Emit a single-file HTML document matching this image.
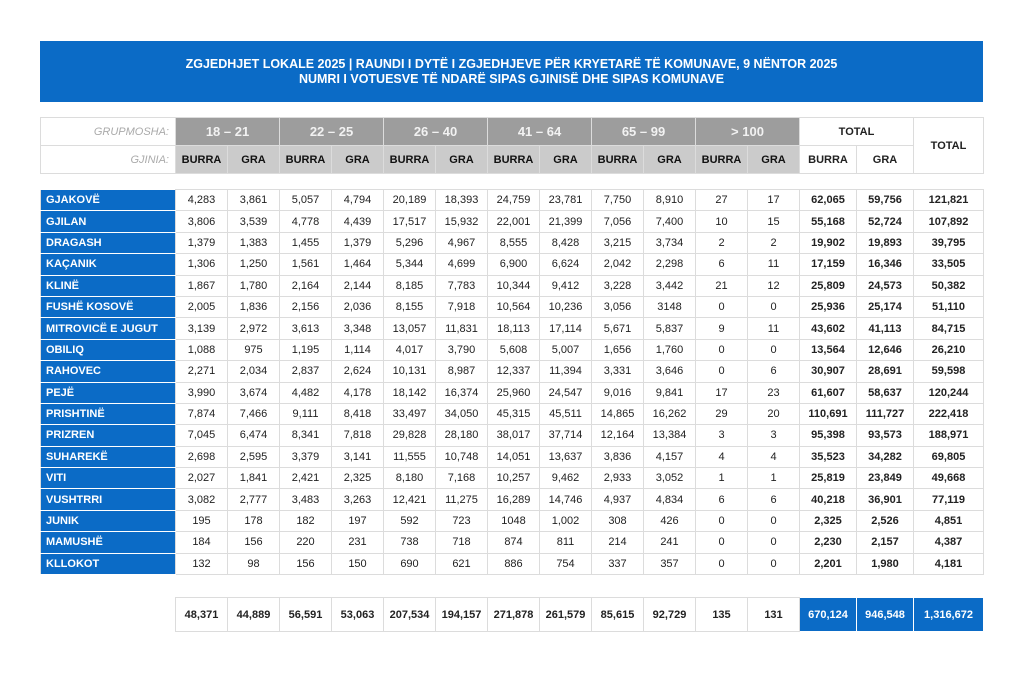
<!DOCTYPE html>
<html><head><meta charset="utf-8">
<style>
body{margin:0;width:1024px;height:682px;background:#fff;font-family:"Liberation Sans",Arial,sans-serif;position:relative;overflow:hidden}
.title{position:absolute;left:40px;top:41px;width:943px;height:61px;background:#0b6bc6;color:#fff;font-weight:bold;font-size:12.5px;text-align:center;line-height:15px;box-sizing:border-box;padding-top:16px}
table{position:absolute;left:40px;border-collapse:collapse;table-layout:fixed;width:943px}
td{border:1px solid #dcdcdc;text-align:center;font-size:11px;color:#222;padding:0;white-space:nowrap;overflow:hidden}
.h td{height:27px}
.age{background:#9d9d9d;color:#f2f2f2;font-weight:bold;font-size:13px}
.gen{background:#cbcbcb;font-weight:bold;font-size:11px;color:#111}
.lab{text-align:right;padding-right:6px;font-style:italic;color:#aaa;font-size:11px}
.tot{font-weight:bold;font-size:11px}
.d td{height:20.4px}
.name{background:#0b6bc6;color:#fff;font-weight:bold;text-align:left;padding-left:5px;border-color:#fff #dcdcdc}
.b{font-weight:bold}
.blue{background:#0b6bc6;color:#fff;font-weight:bold;border-color:#fff}
</style></head><body>
<div class="title">ZGJEDHJET LOKALE 2025 | RAUNDI I DYTË I ZGJEDHJEVE PËR KRYETARË TË KOMUNAVE, 9 NËNTOR 2025<br>NUMRI I VOTUESVE TË NDARË SIPAS GJINISË DHE SIPAS KOMUNAVE</div>
<table class="h" style="top:117px">
<colgroup><col style="width:135px"><col span="12" style="width:52px"><col style="width:57px"><col style="width:57px"><col style="width:70px"></colgroup>
<tr><td class="lab">GRUPMOSHA:</td><td class="age" colspan="2">18 – 21</td><td class="age" colspan="2">22 – 25</td><td class="age" colspan="2">26 – 40</td><td class="age" colspan="2">41 – 64</td><td class="age" colspan="2">65 – 99</td><td class="age" colspan="2">&gt; 100</td><td class="tot" colspan="2">TOTAL</td><td class="tot" rowspan="2">TOTAL</td></tr>
<tr><td class="lab">GJINIA:</td><td class="gen">BURRA</td><td class="gen">GRA</td><td class="gen">BURRA</td><td class="gen">GRA</td><td class="gen">BURRA</td><td class="gen">GRA</td><td class="gen">BURRA</td><td class="gen">GRA</td><td class="gen">BURRA</td><td class="gen">GRA</td><td class="gen">BURRA</td><td class="gen">GRA</td><td class="tot">BURRA</td><td class="tot">GRA</td></tr>
</table>
<table class="d" style="top:189px">
<colgroup><col style="width:135px"><col span="12" style="width:52px"><col style="width:57px"><col style="width:57px"><col style="width:70px"></colgroup>
<tr><td class="name">GJAKOVË</td><td>4,283</td><td>3,861</td><td>5,057</td><td>4,794</td><td>20,189</td><td>18,393</td><td>24,759</td><td>23,781</td><td>7,750</td><td>8,910</td><td>27</td><td>17</td><td class="b">62,065</td><td class="b">59,756</td><td class="b">121,821</td></tr>
<tr><td class="name">GJILAN</td><td>3,806</td><td>3,539</td><td>4,778</td><td>4,439</td><td>17,517</td><td>15,932</td><td>22,001</td><td>21,399</td><td>7,056</td><td>7,400</td><td>10</td><td>15</td><td class="b">55,168</td><td class="b">52,724</td><td class="b">107,892</td></tr>
<tr><td class="name">DRAGASH</td><td>1,379</td><td>1,383</td><td>1,455</td><td>1,379</td><td>5,296</td><td>4,967</td><td>8,555</td><td>8,428</td><td>3,215</td><td>3,734</td><td>2</td><td>2</td><td class="b">19,902</td><td class="b">19,893</td><td class="b">39,795</td></tr>
<tr><td class="name">KAÇANIK</td><td>1,306</td><td>1,250</td><td>1,561</td><td>1,464</td><td>5,344</td><td>4,699</td><td>6,900</td><td>6,624</td><td>2,042</td><td>2,298</td><td>6</td><td>11</td><td class="b">17,159</td><td class="b">16,346</td><td class="b">33,505</td></tr>
<tr><td class="name">KLINË</td><td>1,867</td><td>1,780</td><td>2,164</td><td>2,144</td><td>8,185</td><td>7,783</td><td>10,344</td><td>9,412</td><td>3,228</td><td>3,442</td><td>21</td><td>12</td><td class="b">25,809</td><td class="b">24,573</td><td class="b">50,382</td></tr>
<tr><td class="name">FUSHË KOSOVË</td><td>2,005</td><td>1,836</td><td>2,156</td><td>2,036</td><td>8,155</td><td>7,918</td><td>10,564</td><td>10,236</td><td>3,056</td><td>3148</td><td>0</td><td>0</td><td class="b">25,936</td><td class="b">25,174</td><td class="b">51,110</td></tr>
<tr><td class="name">MITROVICË E JUGUT</td><td>3,139</td><td>2,972</td><td>3,613</td><td>3,348</td><td>13,057</td><td>11,831</td><td>18,113</td><td>17,114</td><td>5,671</td><td>5,837</td><td>9</td><td>11</td><td class="b">43,602</td><td class="b">41,113</td><td class="b">84,715</td></tr>
<tr><td class="name">OBILIQ</td><td>1,088</td><td>975</td><td>1,195</td><td>1,114</td><td>4,017</td><td>3,790</td><td>5,608</td><td>5,007</td><td>1,656</td><td>1,760</td><td>0</td><td>0</td><td class="b">13,564</td><td class="b">12,646</td><td class="b">26,210</td></tr>
<tr><td class="name">RAHOVEC</td><td>2,271</td><td>2,034</td><td>2,837</td><td>2,624</td><td>10,131</td><td>8,987</td><td>12,337</td><td>11,394</td><td>3,331</td><td>3,646</td><td>0</td><td>6</td><td class="b">30,907</td><td class="b">28,691</td><td class="b">59,598</td></tr>
<tr><td class="name">PEJË</td><td>3,990</td><td>3,674</td><td>4,482</td><td>4,178</td><td>18,142</td><td>16,374</td><td>25,960</td><td>24,547</td><td>9,016</td><td>9,841</td><td>17</td><td>23</td><td class="b">61,607</td><td class="b">58,637</td><td class="b">120,244</td></tr>
<tr><td class="name">PRISHTINË</td><td>7,874</td><td>7,466</td><td>9,111</td><td>8,418</td><td>33,497</td><td>34,050</td><td>45,315</td><td>45,511</td><td>14,865</td><td>16,262</td><td>29</td><td>20</td><td class="b">110,691</td><td class="b">111,727</td><td class="b">222,418</td></tr>
<tr><td class="name">PRIZREN</td><td>7,045</td><td>6,474</td><td>8,341</td><td>7,818</td><td>29,828</td><td>28,180</td><td>38,017</td><td>37,714</td><td>12,164</td><td>13,384</td><td>3</td><td>3</td><td class="b">95,398</td><td class="b">93,573</td><td class="b">188,971</td></tr>
<tr><td class="name">SUHAREKË</td><td>2,698</td><td>2,595</td><td>3,379</td><td>3,141</td><td>11,555</td><td>10,748</td><td>14,051</td><td>13,637</td><td>3,836</td><td>4,157</td><td>4</td><td>4</td><td class="b">35,523</td><td class="b">34,282</td><td class="b">69,805</td></tr>
<tr><td class="name">VITI</td><td>2,027</td><td>1,841</td><td>2,421</td><td>2,325</td><td>8,180</td><td>7,168</td><td>10,257</td><td>9,462</td><td>2,933</td><td>3,052</td><td>1</td><td>1</td><td class="b">25,819</td><td class="b">23,849</td><td class="b">49,668</td></tr>
<tr><td class="name">VUSHTRRI</td><td>3,082</td><td>2,777</td><td>3,483</td><td>3,263</td><td>12,421</td><td>11,275</td><td>16,289</td><td>14,746</td><td>4,937</td><td>4,834</td><td>6</td><td>6</td><td class="b">40,218</td><td class="b">36,901</td><td class="b">77,119</td></tr>
<tr><td class="name">JUNIK</td><td>195</td><td>178</td><td>182</td><td>197</td><td>592</td><td>723</td><td>1048</td><td>1,002</td><td>308</td><td>426</td><td>0</td><td>0</td><td class="b">2,325</td><td class="b">2,526</td><td class="b">4,851</td></tr>
<tr><td class="name">MAMUSHË</td><td>184</td><td>156</td><td>220</td><td>231</td><td>738</td><td>718</td><td>874</td><td>811</td><td>214</td><td>241</td><td>0</td><td>0</td><td class="b">2,230</td><td class="b">2,157</td><td class="b">4,387</td></tr>
<tr><td class="name">KLLOKOT</td><td>132</td><td>98</td><td>156</td><td>150</td><td>690</td><td>621</td><td>886</td><td>754</td><td>337</td><td>357</td><td>0</td><td>0</td><td class="b">2,201</td><td class="b">1,980</td><td class="b">4,181</td></tr>
</table>
<table style="top:597px;left:175px;width:808px">
<colgroup><col span="12" style="width:52px"><col style="width:57px"><col style="width:57px"><col style="width:70px"></colgroup>
<tr style="height:34px"><td class="b">48,371</td><td class="b">44,889</td><td class="b">56,591</td><td class="b">53,063</td><td class="b">207,534</td><td class="b">194,157</td><td class="b">271,878</td><td class="b">261,579</td><td class="b">85,615</td><td class="b">92,729</td><td class="b">135</td><td class="b">131</td><td class="blue">670,124</td><td class="blue">946,548</td><td class="blue">1,316,672</td></tr>
</table>
</body></html>
